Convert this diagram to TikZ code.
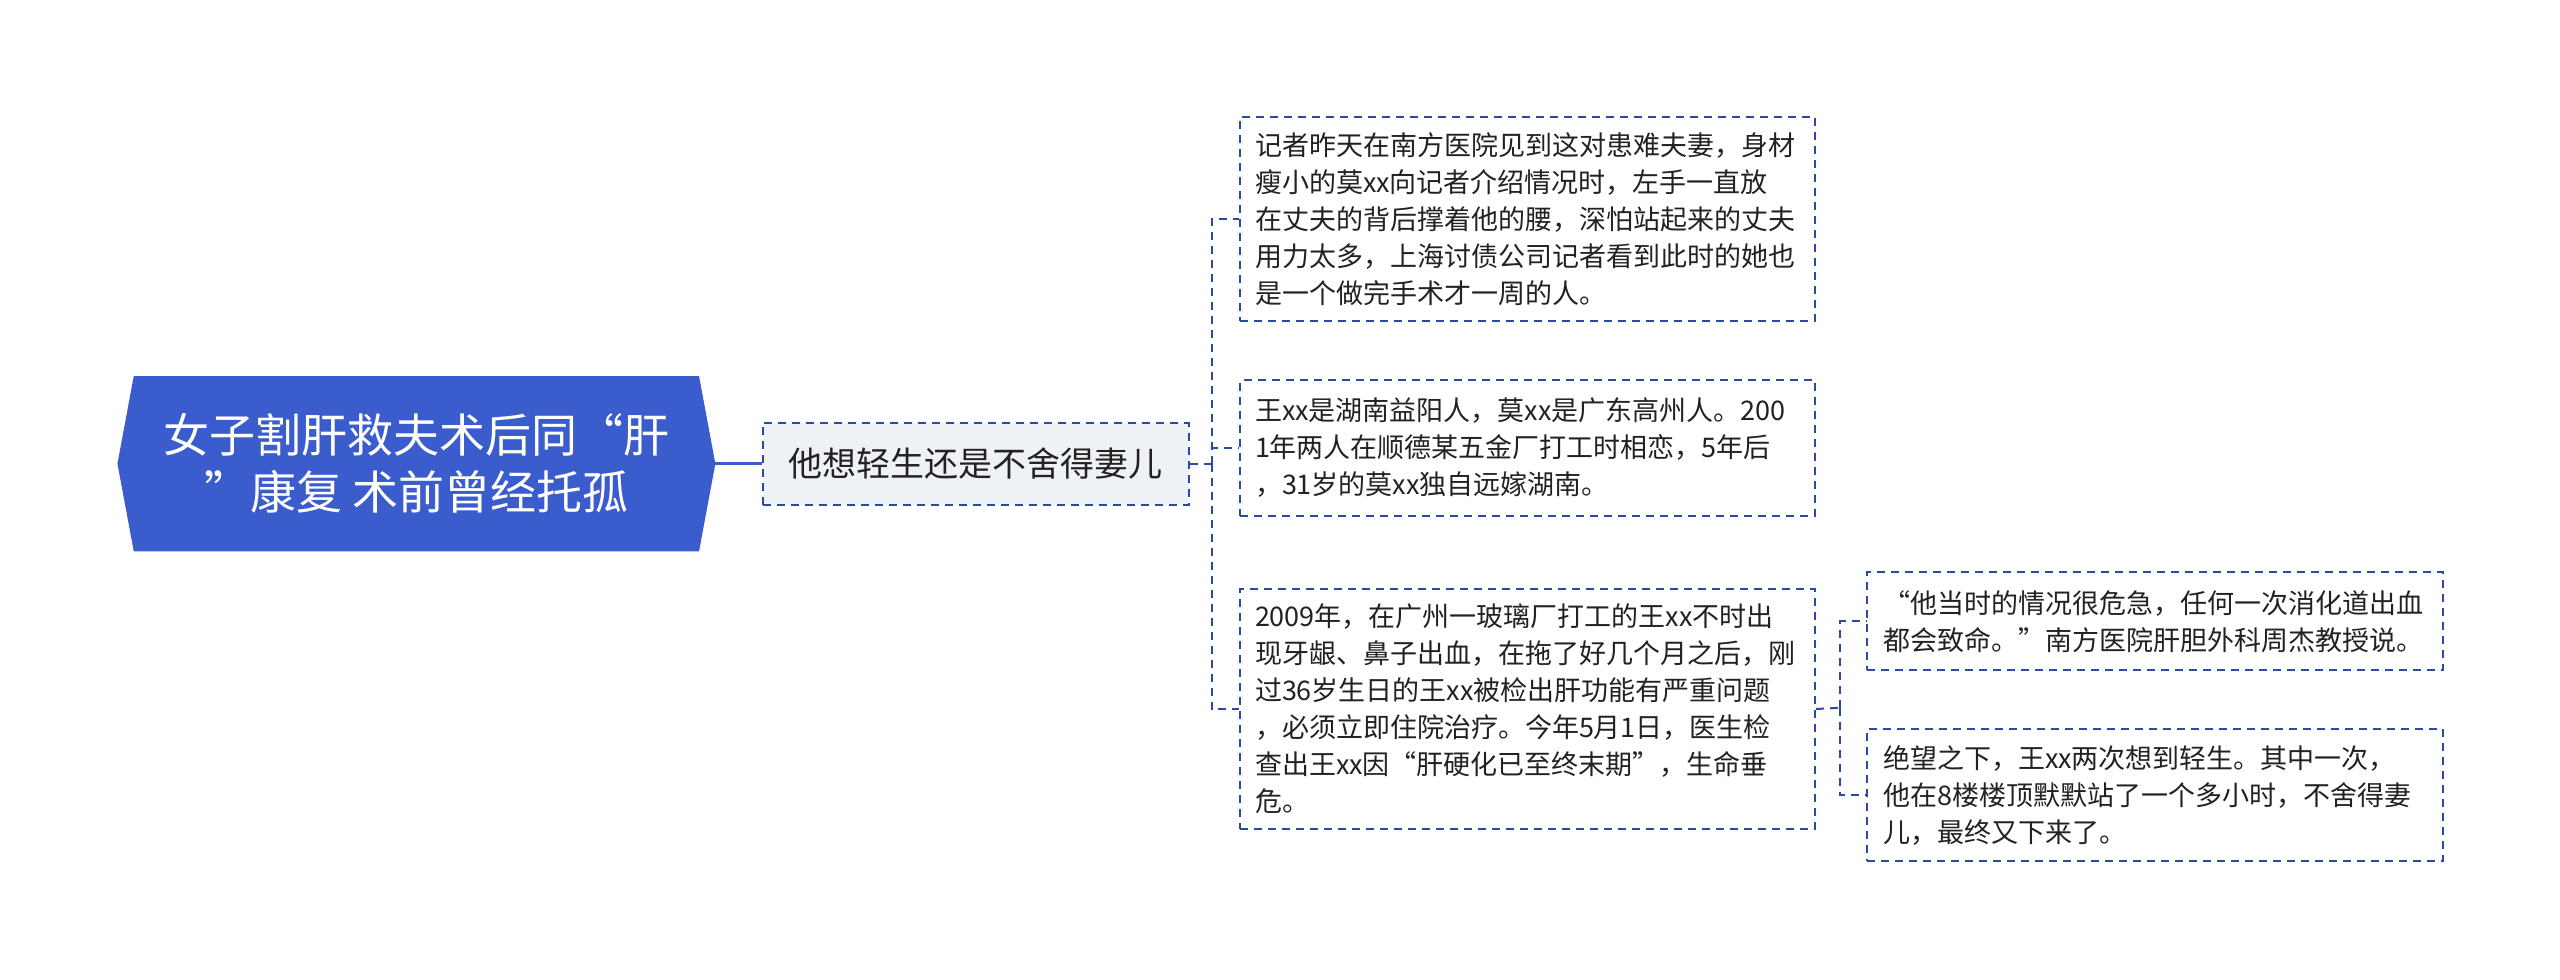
\documentclass[tikz,border=0pt]{standalone}
\usepackage{fontspec}
\setmainfont{Noto Sans CJK SC}
\usetikzlibrary{backgrounds}
\definecolor{rootblue}{RGB}{59,92,204}
\definecolor{lineblue}{RGB}{44,74,160}
\definecolor{subfill}{RGB}{238,241,245}
\definecolor{txt}{RGB}{34,34,34}
\begin{document}
\begin{tikzpicture}[x=1pt,y=-1pt,
  conn/.style={draw=lineblue,line width=2pt,dash pattern=on 8pt off 6pt},
  rootline/.style={draw=rootblue,line width=3pt},
  leafbox/.style={draw=lineblue,line width=2pt,dash pattern=on 8pt off 6pt,fill=white,
    align=left,inner xsep=15pt,inner ysep=0pt,text width=545pt,text=txt,
    font=\fontsize{27}{37}\selectfont,anchor=north west},
  subbox/.style={draw=lineblue,line width=2pt,dash pattern=on 8pt off 6pt,fill=subfill,
    minimum width=426pt,minimum height=81.6pt,inner sep=0pt,text=txt,
    font=\fontsize{34}{40}\selectfont},
  rootbox/.style={minimum width=597.5pt,minimum height=174.7pt,inner sep=0pt,
    text=white,align=center,font=\fontsize{46}{57}\selectfont}]
\begin{pgfonlayer}{background}
\fill[white] (0,0) rectangle (2560,980);
\end{pgfonlayer}
\useasboundingbox (0,0) rectangle (2560,980);

\node[rootbox] (root) at (416.4,463.7) {女子割肝救夫术后同“肝\\”康复 术前曾经托孤};
\begin{pgfonlayer}{background}
\fill[rootblue] ([xshift=16.3pt]root.north west) -- ([xshift=-16.3pt]root.north east)
  -- (root.east) -- ([xshift=-16.3pt]root.south east) -- ([xshift=16.3pt]root.south west)
  -- (root.west) -- cycle;
\end{pgfonlayer}

\node[subbox] (sub) at (975.5,463.7) {他想轻生还是不舍得妻儿};

\node[leafbox,minimum height=204pt] (c1) at (1239,116) {记者昨天在南方医院见到这对患难夫妻，身材\\瘦小的莫xx向记者介绍情况时，左手一直放\\在丈夫的背后撑着他的腰，深怕站起来的丈夫\\用力太多，上海讨债公司记者看到此时的她也\\是一个做完手术才一周的人。};
\node[leafbox,minimum height=135.5pt] (c2) at (1239,379) {王xx是湖南益阳人，莫xx是广东高州人。200\\1年两人在顺德某五金厂打工时相恋，5年后\\，31岁的莫xx独自远嫁湖南。};
\node[leafbox,minimum height=240pt] (c3) at (1239,588) {2009年，在广州一玻璃厂打工的王xx不时出\\现牙龈、鼻子出血，在拖了好几个月之后，刚\\过36岁生日的王xx被检出肝功能有严重问题\\，必须立即住院治疗。今年5月1日，医生检\\查出王xx因“肝硬化已至终末期”，生命垂\\危。};
\node[leafbox,minimum height=98pt,inner xsep=16pt,text width=544pt] (g1) at (1866,571.4) {“他当时的情况很危急，任何一次消化道出血\\都会致命。”南方医院肝胆外科周杰教授说。};
\node[leafbox,minimum height=132pt,inner xsep=16pt,text width=544pt] (g2) at (1866,728.2) {绝望之下，王xx两次想到轻生。其中一次，\\他在8楼楼顶默默站了一个多小时，不舍得妻\\儿，最终又下来了。};

\draw[rootline] (root.east) -- (sub.west);

\coordinate (t1) at (1211.5,463.7);
\draw[conn] (sub.east) -- (t1);
\draw[conn] (t1) |- (c1.west);
\draw[conn] (t1) |- (c2.west);
\draw[conn] (t1) |- (c3.west);

\coordinate (t2) at (1840,707.8);
\draw[conn] (c3.east) -- (t2);
\draw[conn] (t2) |- (g1.west);
\draw[conn] (t2) |- (g2.west);
\end{tikzpicture}
\end{document}
